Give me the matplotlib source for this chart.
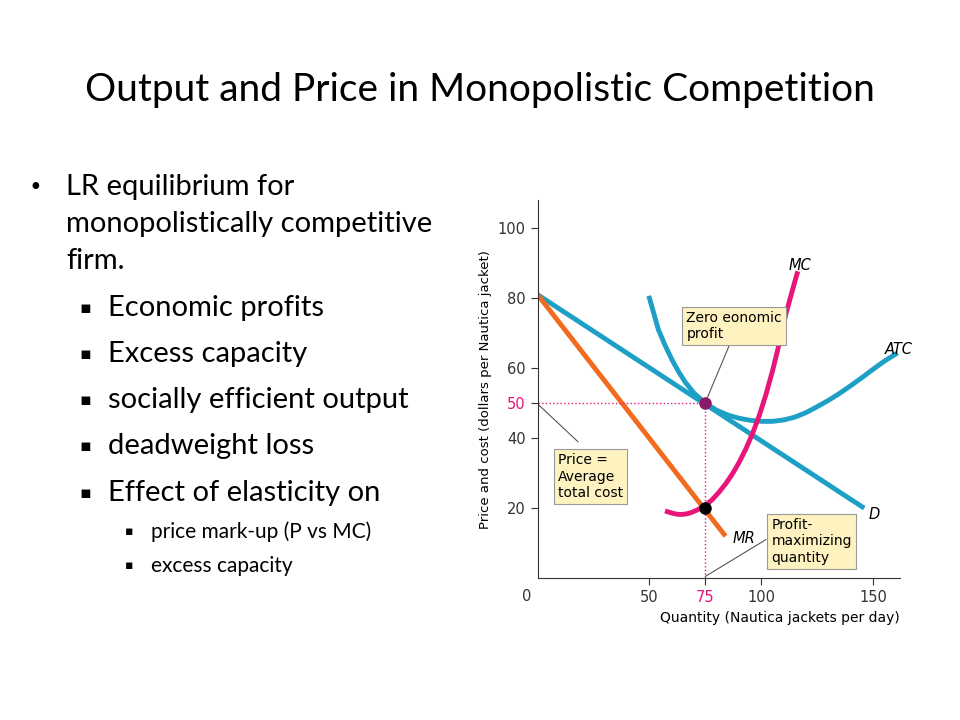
import matplotlib
matplotlib.use("Agg")
import matplotlib.pyplot as plt

demand_q = [0, 146]
demand_p = [81, 20]
mr_q = [0, 84]
mr_p = [81, 12]
atc_q = [50, 52, 54, 57, 60, 63, 66, 70, 75, 80, 85, 90, 95, 100, 105, 110, 115, 120, 125, 130, 135, 140, 145, 150, 155, 160]
atc_p = [80, 75.5, 71, 66.5, 62.5, 59, 56, 52.8, 50, 48, 46.6, 45.7, 45.1, 44.8, 44.8, 45.2, 46, 47.3, 49, 50.8, 52.8, 55, 57.3, 59.7, 62, 64]
mc_q = [58, 60, 62, 64, 66, 68, 70, 72, 75, 78, 81, 84, 87, 90, 93, 96, 99, 102, 105, 108, 111, 114, 116]
mc_p = [19, 18.6, 18.3, 18.2, 18.3, 18.6, 19.1, 19.7, 20.8, 22.4, 24.5, 26.9, 29.7, 33, 36.8, 41.2, 46.3, 52.3, 59.2, 67, 75.5, 82.5, 87]
eq_q, eq_p, mr_eq_p = 75, 50, 20
xticks = [50, 100, 150]
yticks = [20, 40, 60, 80, 100]

fig = plt.figure(figsize=(9.6, 7.2), dpi=100)
fig.patch.set_facecolor("white")
F = "Lato"
fig.text(0.5, 0.875, "Output and Price in Monopolistic Competition", ha="center", va="center",
         fontsize=28, family=F)
bul = [(0.03, 0.740, "•", 0.069, "LR equilibrium for", 21),
       (None, 0.689, None, 0.069, "monopolistically competitive", 21),
       (None, 0.637, None, 0.069, "firm.", 21),
       (0.083, 0.572, "▪", 0.112, "Economic profits", 21),
       (0.083, 0.508, "▪", 0.112, "Excess capacity", 21),
       (0.083, 0.444, "▪", 0.112, "socially efficient output", 21),
       (0.083, 0.380, "▪", 0.112, "deadweight loss", 21),
       (0.083, 0.315, "▪", 0.112, "Effect of elasticity on", 21),
       (0.130, 0.262, "▪", 0.157, "price mark-up (P vs MC)", 15),
       (0.130, 0.214, "▪", 0.157, "excess capacity", 15)]
for bx, by, b, tx, t, fs in bul:
    if b:
        fig.text(bx, by, b, fontsize=fs * (0.8 if b == "•" else 0.6), family="DejaVu Sans", va="center")
    fig.text(tx, by, t, fontsize=fs, family=F, va="center")

ax = fig.add_axes([0.560, 0.197, 0.3775, 0.525])
ax.set_xlim(0, 162)
ax.set_ylim(0, 108)
for s in ["top", "right"]:
    ax.spines[s].set_visible(False)
ax.spines["left"].set_color("#333")
ax.spines["bottom"].set_color("#333")
blue, orange, pink = "#1ea0c6", "#f26b1d", "#e8167a"
ax.plot(demand_q, demand_p, color=blue, lw=3.5, solid_capstyle="butt")
ax.plot(mr_q, mr_p, color=orange, lw=3.5, solid_capstyle="butt")
ax.plot(atc_q, atc_p, color=blue, lw=3.5, solid_joinstyle="round")
ax.plot(mc_q, mc_p, color=pink, lw=3.5, solid_joinstyle="round")
ax.plot([0, eq_q], [eq_p, eq_p], color=pink, lw=1, ls=":")
ax.plot([eq_q, eq_q], [0, eq_p], color=pink, lw=1, ls=":")
ax.plot([eq_q], [eq_p], "o", color="#8b1a6b", ms=8, zorder=5)
ax.plot([eq_q], [mr_eq_p], "o", color="black", ms=8, zorder=5)

ax.set_xticks([eq_q] + xticks)
ax.set_xticklabels([str(eq_q)] + [str(v) for v in xticks])
ax.set_yticks([eq_p] + yticks)
ax.set_yticklabels([str(eq_p)] + [str(v) for v in yticks])
ax.tick_params(labelsize=10.5, colors="#333", length=5, direction="out")
ax.get_xticklabels()[0].set_color(pink)
ax.get_yticklabels()[0].set_color(pink)
ax.text(-3, -3, "0", fontsize=10.5, ha="right", va="top", color="#333")
ax.set_xlabel("Quantity (Nautica jackets per day)", fontsize=10, loc="right", labelpad=4)
ax.set_ylabel("Price and cost (dollars per Nautica jacket)", fontsize=9.5, labelpad=4)

ax.text(112, 88, "MC", fontsize=10.5, style="italic")
ax.text(155, 64, "ATC", fontsize=10.5, style="italic")
ax.text(148, 17, "D", fontsize=10.5, style="italic")
ax.text(87, 10, "MR", fontsize=10.5, style="italic")

box = dict(boxstyle="square,pad=0.3", fc="#fdf2c0", ec="#999", lw=0.8)
ax.text(66.5, 72, "Zero eonomic\nprofit", fontsize=10, va="center", bbox=box)
ax.plot([86, 75.5], [67, 51], color="#555", lw=0.8)
ax.text(9, 29, "Price =\nAverage\ntotal cost", fontsize=10, va="center", bbox=box)
ax.plot([0.5, 18], [49.5, 39], color="#555", lw=0.8)
ax.text(104.5, 10.5, "Profit-\nmaximizing\nquantity", fontsize=10, va="center", bbox=box)
ax.plot([75, 102], [0.5, 11], color="#555", lw=0.8)

fig.savefig("out.png", dpi=100)
